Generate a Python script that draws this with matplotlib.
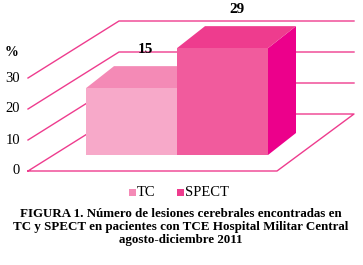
import matplotlib
matplotlib.use("Agg")
import matplotlib.pyplot as plt
from matplotlib.patches import Polygon, Rectangle

# Data
categories = ["TC", "SPECT"]
values = [15, 29]
yTicks = [0, 10, 20, 30]
caption = ["FIGURA 1. Número de lesiones cerebrales encontradas en",
           "TC y SPECT en pacientes con TCE Hospital Militar Central",
           "agosto-diciembre 2011"]

# Colours (front, top, side)
faceColors = ["#F7A9C9", "#F15B9D"]
topColors = ["#F48AB6", "#EE3C8E"]
sideColors = ["#F49AC0", "#EC008B"]
legendColors = ["#F48AB6", "#EE3C8E"]
lineColor = "#EE3C8E"

# Layout (pixel space of the 363x265 canvas)
wallX0, wallY0 = 28, 171          # front-left corner of the floor
wallDx, wallDy = 91, -57          # depth of the walls
wallRight = 354                   # right end of the back wall
floorRight = 277                  # front-right corner of the floor
pxPerUnit = 3.1                   # gridline spacing per axis unit
barLeft, barWidth = 86, 91
barBaseY = 155
barDx, barDy = 28, -22
barScale, barOffset = 2.857, 24   # bar height = offset + value*scale
serif = "Liberation Serif"

fig = plt.figure(figsize=(3.63, 2.65), dpi=100)
ax = fig.add_axes([0, 0, 1, 1])
ax.set_xlim(0, 363)
ax.set_ylim(265, 0)
ax.axis("off")

#{{{ walls and floor
lw = 1.0
for t in yTicks:
    yf = wallY0 - t * pxPerUnit
    yb = yf + wallDy
    if t == 0:
        # floor outline
        ax.plot([wallX0, floorRight, wallRight, wallX0 + wallDx, wallX0],
                [yf, yf, yb, yb, yf], color=lineColor, lw=lw, zorder=1)
    else:
        ax.plot([wallX0, wallX0 + wallDx, wallRight], [yf, yb, yb],
                color=lineColor, lw=lw, zorder=1)
    ax.text(20, yf, str(t), ha="right", va="center", family=serif,
            fontsize=10.5, color="black")
ax.text(12, 52, "%", ha="center", va="center", family=serif,
        fontsize=10, fontweight="bold")
#}}}

#{{{ bars
for i, (cat, val) in enumerate(zip(categories, values)):
    x0 = barLeft + i * barWidth
    x1 = x0 + barWidth
    h = barOffset + val * barScale
    yt = barBaseY - h
    front = Rectangle((x0, yt), barWidth, h, facecolor=faceColors[i],
                      edgecolor="none", zorder=2 + i)
    top = Polygon([(x0, yt), (x1, yt), (x1 + barDx, yt + barDy),
                   (x0 + barDx, yt + barDy)], closed=True,
                  facecolor=topColors[i], edgecolor="none", zorder=2 + i)
    side = Polygon([(x1, yt), (x1 + barDx, yt + barDy),
                    (x1 + barDx, barBaseY + barDy), (x1, barBaseY)],
                   closed=True, facecolor=sideColors[i], edgecolor="none",
                   zorder=2 + i)
    for p in (side, top, front):
        ax.add_patch(p)
    ax.text(x0 + barWidth / 2 + barDx / 2, yt + barDy - 17, str(val),
            ha="center", va="center", family=serif, fontsize=11,
            fontweight="bold", zorder=5)
#}}}

#{{{ legend
legendX = [132, 180]
for cat, col, lx in zip(categories, legendColors, legendX):
    ax.add_patch(Rectangle((lx - 3.5, 188.5), 7, 7, facecolor=col,
                           edgecolor="none"))
    ax.text(lx + 5, 192, cat, ha="left", va="center", family=serif,
            fontsize=10.5)
#}}}

# Caption
for k, line in enumerate(caption):
    ax.text(181, 214 + 13 * k, line, ha="center", va="center",
            family=serif, fontsize=9.4, fontweight="bold")

fig.savefig("out.png", dpi=100)
